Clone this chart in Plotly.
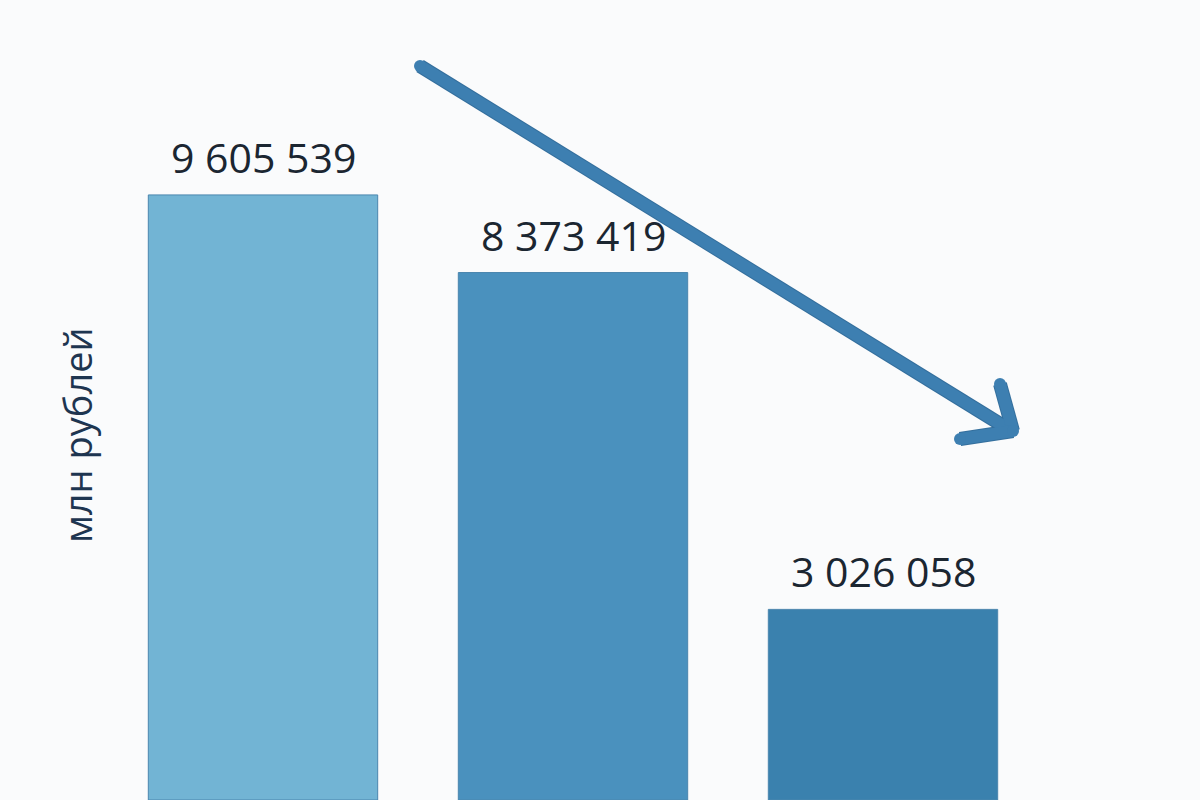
import plotly.graph_objects as go

categories = ["A", "B", "C"]
values = [9605539, 8373419, 3026058]
labels = ["9 605 539", "8 373 419", "3 026 058"]
bar_colors = ["#72b4d4", "#4a91be", "#3a81ae"]
y_title = "млн рублей"
y_max = 12.7e6

W, H = 1200, 800
L, R, T, B = 108, 162, 0, 0
PW, PH = W - L - R, H - T - B
BG = "#fafbfc"

def px(x):
    return (x - L) / PW

def py(y):
    return (H - B - y) / PH

fig = go.Figure()
fig.add_trace(go.Bar(
    x=categories, y=values,
    marker=dict(color=bar_colors, line=dict(color="#4a86ae", width=1)),
    width=0.74, hoverinfo="skip", showlegend=False,
))

annotations = []
for c, v, t in zip(categories, values, labels):
    annotations.append(dict(
        x=c, y=v, xref="x", yref="y", text=t, showarrow=False,
        yanchor="middle", yshift=38,
        font=dict(family="Open Sans", size=41, color="#1b2631", weight=500),
    ))
annotations.append(dict(
    x=px(77), y=py(435), xref="paper", yref="paper", text=y_title,
    textangle=-90, showarrow=False, xanchor="center", yanchor="middle",
    font=dict(family="Open Sans", size=38, color="#1e3550"),
))

arrow_color = "#3d7fb1"
edge = "#346f9d"
shapes = []
for col, w in [(edge, 14), (arrow_color, 12)]:
    shapes.append(dict(type="line", xref="paper", yref="paper",
                       x0=px(420), y0=py(66), x1=px(1010), y1=py(430),
                       line=dict(color=col, width=w)))
    shapes.append(dict(type="line", xref="paper", yref="paper",
                       x0=px(1000), y0=py(384), x1=px(1013), y1=py(431),
                       line=dict(color=col, width=w)))
    shapes.append(dict(type="line", xref="paper", yref="paper",
                       x0=px(960), y0=py(439), x1=px(1013), y1=py(431),
                       line=dict(color=col, width=w)))
for cx, cy in [(420, 66), (1000, 384), (960, 439), (1013, 431)]:
    r = 6
    shapes.append(dict(type="circle", xref="paper", yref="paper",
                       x0=px(cx - r), x1=px(cx + r), y0=py(cy + r), y1=py(cy - r),
                       fillcolor=arrow_color, line=dict(width=0)))

fig.update_layout(
    width=W, height=H,
    margin=dict(l=L, r=R, t=T, b=B),
    paper_bgcolor=BG, plot_bgcolor=BG,
    xaxis=dict(visible=False, range=[-0.5, 2.5]),
    yaxis=dict(visible=False, range=[0, y_max]),
    annotations=annotations, shapes=shapes,
)

fig.write_html(
    "out.html",
    config={"displayModeBar": False, "staticPlot": True},
    post_script="document.body.style.margin='0';document.body.style.background='" + BG + "';",
)
